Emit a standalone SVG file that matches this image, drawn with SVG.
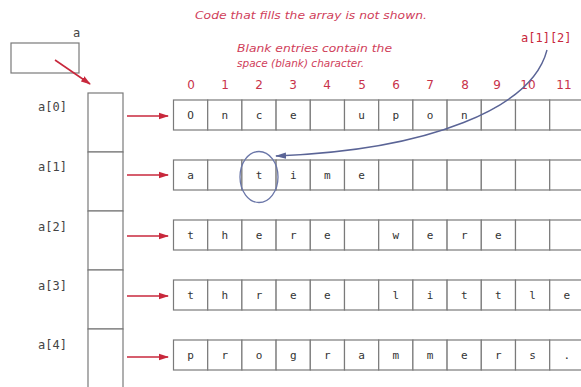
<svg xmlns="http://www.w3.org/2000/svg" width="581" height="387" viewBox="0 0 581 387">
<style>
.cell{fill:#fff;stroke:#7a7a7a;stroke-width:1.2}
.ch{font-family:"DejaVu Sans Mono",monospace;font-size:11px;fill:#333;text-anchor:middle}
.lbl{font-family:"DejaVu Sans Mono",monospace;font-size:12px;fill:#444}
.idx{font-family:"DejaVu Sans",sans-serif;font-size:12px;fill:#c8324a;text-anchor:middle}
.note{font-family:"DejaVu Sans",sans-serif;font-style:italic;font-size:11px;fill:#d0405a}
.red{stroke:#c8283c;stroke-width:1.6;fill:none}
.blue{stroke:#5a6496;stroke-width:1.4;fill:none}
</style>
<defs>
<marker id="ra" markerWidth="10" markerHeight="8" refX="9" refY="4" orient="auto" markerUnits="userSpaceOnUse">
<path d="M0,0.8 L10,4 L0,7.2 Z" fill="#c8283c"/>
</marker>
<marker id="ba" markerWidth="11" markerHeight="8" refX="10" refY="4" orient="auto" markerUnits="userSpaceOnUse">
<path d="M0,0.8 L11,4 L0,7.2 Z" fill="#5a6496"/>
</marker>
</defs>
<rect width="581" height="387" fill="#fff"/>

<text class="note" x="195" y="19" textLength="232" lengthAdjust="spacingAndGlyphs">Code that fills the array is not shown.</text>
<text class="note" x="237" y="52" textLength="155" lengthAdjust="spacingAndGlyphs">Blank entries contain the</text>
<text class="note" x="237" y="67" textLength="127" lengthAdjust="spacingAndGlyphs">space (blank) character.</text>

<g id="var-a">
<rect class="cell" x="11" y="43" width="68" height="30"/>
<text class="lbl" x="73" y="37">a</text>
</g>

<g id="index-labels">
<text class="idx" x="191" y="89">0</text>
<text class="idx" x="225" y="89">1</text>
<text class="idx" x="259" y="89">2</text>
<text class="idx" x="293" y="89">3</text>
<text class="idx" x="327" y="89">4</text>
<text class="idx" x="362" y="89">5</text>
<text class="idx" x="396" y="89">6</text>
<text class="idx" x="430" y="89">7</text>
<text class="idx" x="465" y="89">8</text>
<text class="idx" x="497" y="89">9</text>
<text class="idx" x="528" y="89">10</text>
<text class="idx" x="564" y="89">11</text>
</g>

<g id="pointer-array">
<rect class="cell" x="88" y="93" width="35" height="59"/>
<rect class="cell" x="88" y="152" width="35" height="59"/>
<rect class="cell" x="88" y="211" width="35" height="59"/>
<rect class="cell" x="88" y="270" width="35" height="59"/>
<rect class="cell" x="88" y="329" width="35" height="59"/>
<text class="lbl" x="38" y="111">a[0]</text>
<text class="lbl" x="38" y="171">a[1]</text>
<text class="lbl" x="38" y="231">a[2]</text>
<text class="lbl" x="38" y="290">a[3]</text>
<text class="lbl" x="38" y="349">a[4]</text>
</g>

<g id="row0">
<rect class="cell" x="173.5" y="100" width="34.2" height="30"/><rect class="cell" x="207.7" y="100" width="34.2" height="30"/><rect class="cell" x="241.9" y="100" width="34.2" height="30"/><rect class="cell" x="276.1" y="100" width="34.2" height="30"/><rect class="cell" x="310.3" y="100" width="34.2" height="30"/><rect class="cell" x="344.5" y="100" width="34.2" height="30"/><rect class="cell" x="378.7" y="100" width="34.2" height="30"/><rect class="cell" x="412.9" y="100" width="34.2" height="30"/><rect class="cell" x="447.1" y="100" width="34.2" height="30"/><rect class="cell" x="481.3" y="100" width="34.2" height="30"/><rect class="cell" x="515.5" y="100" width="34.2" height="30"/><rect class="cell" x="549.7" y="100" width="34.2" height="30"/>
<text class="ch" x="190.6" y="119">O</text><text class="ch" x="224.8" y="119">n</text><text class="ch" x="259" y="119">c</text><text class="ch" x="293.2" y="119">e</text><text class="ch" x="361.6" y="119">u</text><text class="ch" x="395.8" y="119">p</text><text class="ch" x="430" y="119">o</text><text class="ch" x="464.2" y="119">n</text>
</g>

<g id="row1">
<rect class="cell" x="173.5" y="160" width="34.2" height="30"/><rect class="cell" x="207.7" y="160" width="34.2" height="30"/><rect class="cell" x="241.9" y="160" width="34.2" height="30"/><rect class="cell" x="276.1" y="160" width="34.2" height="30"/><rect class="cell" x="310.3" y="160" width="34.2" height="30"/><rect class="cell" x="344.5" y="160" width="34.2" height="30"/><rect class="cell" x="378.7" y="160" width="34.2" height="30"/><rect class="cell" x="412.9" y="160" width="34.2" height="30"/><rect class="cell" x="447.1" y="160" width="34.2" height="30"/><rect class="cell" x="481.3" y="160" width="34.2" height="30"/><rect class="cell" x="515.5" y="160" width="34.2" height="30"/><rect class="cell" x="549.7" y="160" width="34.2" height="30"/>
<text class="ch" x="190.6" y="179">a</text><text class="ch" x="259" y="179">t</text><text class="ch" x="293.2" y="179">i</text><text class="ch" x="327.4" y="179">m</text><text class="ch" x="361.6" y="179">e</text>
</g>

<g id="row2">
<rect class="cell" x="173.5" y="220" width="34.2" height="30"/><rect class="cell" x="207.7" y="220" width="34.2" height="30"/><rect class="cell" x="241.9" y="220" width="34.2" height="30"/><rect class="cell" x="276.1" y="220" width="34.2" height="30"/><rect class="cell" x="310.3" y="220" width="34.2" height="30"/><rect class="cell" x="344.5" y="220" width="34.2" height="30"/><rect class="cell" x="378.7" y="220" width="34.2" height="30"/><rect class="cell" x="412.9" y="220" width="34.2" height="30"/><rect class="cell" x="447.1" y="220" width="34.2" height="30"/><rect class="cell" x="481.3" y="220" width="34.2" height="30"/><rect class="cell" x="515.5" y="220" width="34.2" height="30"/><rect class="cell" x="549.7" y="220" width="34.2" height="30"/>
<text class="ch" x="190.6" y="239">t</text><text class="ch" x="224.8" y="239">h</text><text class="ch" x="259" y="239">e</text><text class="ch" x="293.2" y="239">r</text><text class="ch" x="327.4" y="239">e</text><text class="ch" x="395.8" y="239">w</text><text class="ch" x="430" y="239">e</text><text class="ch" x="464.2" y="239">r</text><text class="ch" x="498.4" y="239">e</text>
</g>

<g id="row3">
<rect class="cell" x="173.5" y="280" width="34.2" height="30"/><rect class="cell" x="207.7" y="280" width="34.2" height="30"/><rect class="cell" x="241.9" y="280" width="34.2" height="30"/><rect class="cell" x="276.1" y="280" width="34.2" height="30"/><rect class="cell" x="310.3" y="280" width="34.2" height="30"/><rect class="cell" x="344.5" y="280" width="34.2" height="30"/><rect class="cell" x="378.7" y="280" width="34.2" height="30"/><rect class="cell" x="412.9" y="280" width="34.2" height="30"/><rect class="cell" x="447.1" y="280" width="34.2" height="30"/><rect class="cell" x="481.3" y="280" width="34.2" height="30"/><rect class="cell" x="515.5" y="280" width="34.2" height="30"/><rect class="cell" x="549.7" y="280" width="34.2" height="30"/>
<text class="ch" x="190.6" y="299">t</text><text class="ch" x="224.8" y="299">h</text><text class="ch" x="259" y="299">r</text><text class="ch" x="293.2" y="299">e</text><text class="ch" x="327.4" y="299">e</text><text class="ch" x="395.8" y="299">l</text><text class="ch" x="430" y="299">i</text><text class="ch" x="464.2" y="299">t</text><text class="ch" x="498.4" y="299">t</text><text class="ch" x="532.6" y="299">l</text><text class="ch" x="566.8" y="299">e</text>
</g>

<g id="row4">
<rect class="cell" x="173.5" y="340" width="34.2" height="30"/><rect class="cell" x="207.7" y="340" width="34.2" height="30"/><rect class="cell" x="241.9" y="340" width="34.2" height="30"/><rect class="cell" x="276.1" y="340" width="34.2" height="30"/><rect class="cell" x="310.3" y="340" width="34.2" height="30"/><rect class="cell" x="344.5" y="340" width="34.2" height="30"/><rect class="cell" x="378.7" y="340" width="34.2" height="30"/><rect class="cell" x="412.9" y="340" width="34.2" height="30"/><rect class="cell" x="447.1" y="340" width="34.2" height="30"/><rect class="cell" x="481.3" y="340" width="34.2" height="30"/><rect class="cell" x="515.5" y="340" width="34.2" height="30"/><rect class="cell" x="549.7" y="340" width="34.2" height="30"/>
<text class="ch" x="190.6" y="359">p</text><text class="ch" x="224.8" y="359">r</text><text class="ch" x="259" y="359">o</text><text class="ch" x="293.2" y="359">g</text><text class="ch" x="327.4" y="359">r</text><text class="ch" x="361.6" y="359">a</text><text class="ch" x="395.8" y="359">m</text><text class="ch" x="430" y="359">m</text><text class="ch" x="464.2" y="359">e</text><text class="ch" x="498.4" y="359">r</text><text class="ch" x="532.6" y="359">s</text><text class="ch" x="566.8" y="359">.</text>
</g>

<g id="element-label">
<text x="521" y="42" style="font-family:'DejaVu Sans Mono',monospace;font-size:12px;fill:#c8283c">a[1][2]</text>
<ellipse cx="259" cy="177" rx="19" ry="25.5" fill="none" stroke="#6a76a8" stroke-width="1.3"/>
</g>

<g id="connectors">
<line class="red" x1="55" y1="60" x2="90" y2="84" marker-end="url(#ra)"/>
<line class="red" x1="127" y1="116" x2="168" y2="116" marker-end="url(#ra)"/>
<line class="red" x1="127" y1="175" x2="168" y2="175" marker-end="url(#ra)"/>
<line class="red" x1="127" y1="236" x2="168" y2="236" marker-end="url(#ra)"/>
<line class="red" x1="127" y1="296" x2="168" y2="296" marker-end="url(#ra)"/>
<line class="red" x1="127" y1="357" x2="168" y2="357" marker-end="url(#ra)"/>
<path class="blue" d="M547,50 C532,108 430,150 276,156" marker-end="url(#ba)"/>
</g>
</svg>
